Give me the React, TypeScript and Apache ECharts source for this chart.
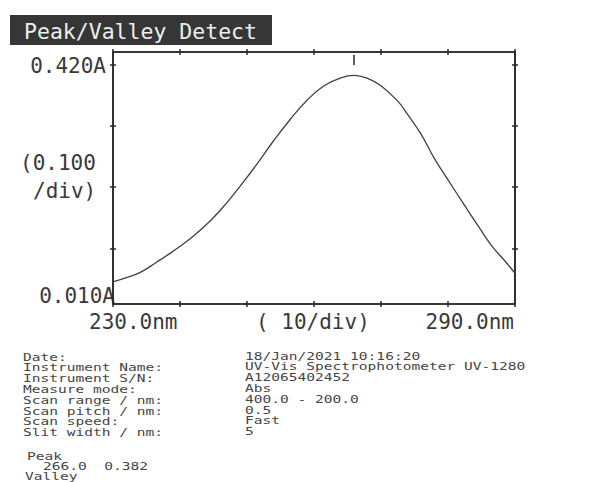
import React, { useEffect, useRef } from "react";
import * as echarts from "echarts";

const titleText = "Peak/Valley Detect";

// Spectrum (nm, Abs)
const wavelengths = [230, 232, 234, 236.5, 239, 241.5, 244.5, 247, 249.5, 251.5, 254, 256.5, 259, 261.5, 264, 266, 268, 270, 272.5, 274, 276, 278, 280, 282.5, 284.5, 286.5, 288.5, 290];
const absorbance = [0.046, 0.053, 0.061, 0.078, 0.096, 0.116, 0.145, 0.175, 0.209, 0.238, 0.276, 0.311, 0.342, 0.365, 0.378, 0.382, 0.377, 0.365, 0.34, 0.318, 0.286, 0.246, 0.212, 0.17, 0.137, 0.105, 0.08, 0.06];

const xMin = 230;
const xMax = 290;
const xInterval = 10;
const yMin = 0.01;
const yMax = 0.42;
const yTickValues = [0.1, 0.2, 0.3, 0.4];

const yTopLabel = "0.420A";
const yBottomLabel = "0.010A";
const yScaleLabel1 = "(0.100";
const yScaleLabel2 = "/div)";
const xLeftLabel = "230.0nm";
const xRightLabel = "290.0nm";
const xScaleLabel = "( 10/div)";

const infoKeys = [
  "Date:",
  "Instrument Name:",
  "Instrument S/N:",
  "Measure mode:",
  "Scan range / nm:",
  "Scan pitch / nm:",
  "Scan speed:",
  "Slit width / nm:",
];
const infoValues = [
  "18/Jan/2021 10:16:20",
  "UV-Vis Spectrophotometer UV-1280",
  "A12065402452",
  "Abs",
  "400.0 - 200.0",
  "0.5",
  "Fast",
  "5",
];
const peakWavelength = 266.0;
const peakValue = 0.382;

const MONO = "'DejaVu Sans Mono', 'Liberation Mono', monospace";
const INK = "#2a2a2a";
const TEXT = "#3a3a3a";
const INFO = "#454545";

export default function App() {
  const ref = useRef<HTMLDivElement>(null);

  useEffect(() => {
    document.body.style.margin = "0";
    document.body.style.background = "#ffffff";
    if (!ref.current) return;
    const chart = echarts.init(ref.current, undefined, { renderer: "svg" });

    const seriesData = wavelengths.map((w, i) => [w, absorbance[i]]);

    const axisLine = { show: true, lineStyle: { color: INK, width: 1.6 } };
    const tickStyle = { color: INK, width: 1.5 };

    const xAxisFor = (position: string, inside: boolean) => ({
      type: "value",
      position,
      min: xMin,
      max: xMax,
      interval: xInterval,
      axisLine,
      axisTick: { show: true, inside, length: 3, lineStyle: tickStyle },
      axisLabel: { show: false },
      splitLine: { show: false },
    });
    const yAxisFor = (position: string, inside: boolean) => ({
      type: "value",
      position,
      offset: 0,
      min: yMin,
      max: yMax,
      splitNumber: 4,
      axisLine,
      axisTick: { show: true, inside, length: 3, customValues: yTickValues, lineStyle: tickStyle },
      axisLabel: { show: false },
      splitLine: { show: false },
    });

    const bigText = (text: string, x: number, y: number, align: string = "left") => ({
      type: "text",
      x,
      y,
      style: {
        text,
        fill: TEXT,
        font: `21px ${MONO}`,
        align,
        verticalAlign: "middle",
      },
    });

    const INFO_SIZE = 10.4;
    const INFO_SCALE = 1.4;
    const infoText = (text: string, x: number, y: number) => ({
      type: "text",
      x,
      y,
      scaleX: INFO_SCALE,
      scaleY: 1,
      style: {
        text,
        fill: INFO,
        font: `${INFO_SIZE}px ${MONO}`,
        verticalAlign: "middle",
      },
    });

    const LINE_GAP = 10.8;
    const infoGraphics: any[] = [];
    infoKeys.forEach((k, i) => infoGraphics.push(infoText(k, 23, 357 + i * LINE_GAP)));
    infoValues.forEach((v, i) => infoGraphics.push(infoText(v, 245, 356 + i * LINE_GAP)));
    infoGraphics.push(infoText("Peak", 27, 456));
    infoGraphics.push(infoText(`${peakWavelength.toFixed(1)}  ${peakValue.toFixed(3)}`, 43, 466.4));
    infoGraphics.push(infoText("Valley", 25, 476.8));

    const option: any = {
      animation: false,
      backgroundColor: "#ffffff",
      grid: { left: 113, right: 101, top: 52, bottom: 178, containLabel: false },
      xAxis: [
        xAxisFor("bottom", true),
        xAxisFor("bottom", false),
        xAxisFor("top", true),
        xAxisFor("top", false),
      ],
      yAxis: [
        yAxisFor("left", true),
        yAxisFor("left", false),
        yAxisFor("right", true),
        yAxisFor("right", false),
      ],
      series: [
        {
          type: "line",
          data: seriesData,
          xAxisIndex: 0,
          yAxisIndex: 0,
          smooth: 0.45,
          showSymbol: false,
          symbol: "none",
          lineStyle: { color: "#404040", width: 1.3 },
          markLine: {
            silent: true,
            symbol: ["none", "none"],
            label: { show: false },
            lineStyle: { color: INK, width: 1.5, type: "solid" },
            data: [
              [
                { coord: [peakWavelength, 0.415] },
                { coord: [peakWavelength, 0.399] },
              ],
            ],
          },
        },
      ],
      graphic: [
        {
          type: "rect",
          shape: { x: 10, y: 15, width: 262, height: 30 },
          style: { fill: "#363636" },
        },
        {
          type: "text",
          x: 24,
          y: 31,
          style: {
            text: titleText,
            fill: "#eeeeee",
            font: `21.5px ${MONO}`,
            verticalAlign: "middle",
          },
        },
        bigText(yTopLabel, 106, 66, "right"),
        bigText(yScaleLabel1, 20, 163),
        bigText(yScaleLabel2, 33, 191),
        bigText(yBottomLabel, 115, 296, "right"),
        bigText(xLeftLabel, 89, 322),
        bigText(xScaleLabel, 256, 322),
        bigText(xRightLabel, 514, 322, "right"),
        ...infoGraphics,
      ],
    };

    chart.setOption(option);
    return () => chart.dispose();
  }, []);

  return <div ref={ref} style={{ width: 616, height: 482 }} />;
}
